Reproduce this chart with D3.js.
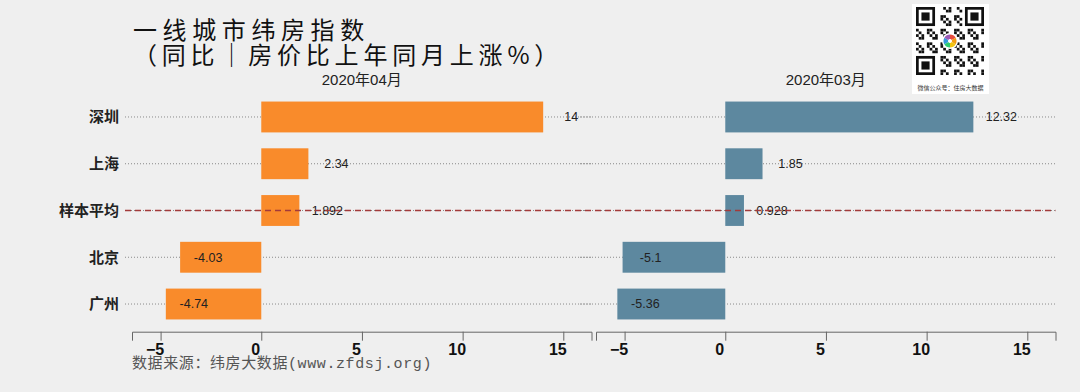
<!DOCTYPE html>
<html>
<head>
<meta charset="utf-8">
<script src="https://cdn.jsdelivr.net/npm/d3@7"></script>
<style>
  body { margin: 0; background: #efefef; }
  svg { display: block; }
</style>
</head>
<body>
<div id="chart"></div>
<script>
// data
var cities = ["深圳", "上海", "样本平均", "北京", "广州"];
var apr = [14, 2.34, 1.892, -4.03, -4.74];
var mar = [12.32, 1.85, 0.928, -5.1, -5.36];
var panelTitles = ["2020年04月", "2020年03月"];
var tickValues = [-5, 0, 5, 10, 15];
var avgName = "样本平均";

var width = 1080, height = 392;
var cjk = "'Noto Sans CJK SC', sans-serif";

var svg = d3.select("#chart")
    .append("svg")
    .attr("width", width)
    .attr("height", height);

svg.append("rect")
    .attr("width", width)
    .attr("height", height)
    .attr("fill", "#efefef");

// title
svg.append("text")
    .attr("x", 133).attr("y", 39)
    .attr("font-family", cjk)
    .attr("font-size", 24)
    .attr("letter-spacing", 5.6)
    .attr("fill", "#111")
    .text("一线城市纬房指数");
svg.append("text")
    .attr("x", 133).attr("y", 64)
    .attr("font-family", cjk)
    .attr("font-size", 24)
    .attr("letter-spacing", 4.8)
    .attr("fill", "#111")
    .text("（同比｜房价比上年同月上涨%）");

var y = d3.scaleBand()
    .domain(cities)
    .range([93.6, 327.4])
    .paddingInner(0.34)
    .paddingOuter(0.17);

// row labels
svg.selectAll(".rowlabel")
    .data(cities)
    .enter().append("text")
    .attr("class", "rowlabel")
    .attr("x", 119)
    .attr("y", function(d) { return y(d) + y.bandwidth() / 2; })
    .attr("dy", "0.35em")
    .attr("text-anchor", "end")
    .attr("font-family", cjk)
    .attr("font-weight", "bold")
    .attr("font-size", 15)
    .attr("fill", "#222")
    .text(function(d) { return d; });

var panels = [
    { title: panelTitles[0], values: apr, color: "#f98b2b", range: [132, 591.5], gridStart: 125 },
    { title: panelTitles[1], values: mar, color: "#5d889f", range: [596, 1055.5], gridStart: 580 }
];

var ay = y(avgName) + y.bandwidth() / 2;

panels.forEach(function(p) {
    var x = d3.scaleLinear()
        .domain([-6.42, 16.4])
        .range(p.range);

    var rows = cities.map(function(c, i) { return { city: c, value: p.values[i] }; });

    var g = svg.append("g");

    g.append("text")
        .attr("x", (p.range[0] + p.range[1]) / 2)
        .attr("y", 85)
        .attr("text-anchor", "middle")
        .attr("font-family", "'Liberation Sans', " + cjk)
        .attr("font-size", 15)
        .attr("fill", "#222")
        .text(p.title);

    // dotted row lines
    g.selectAll(".grid")
        .data(cities)
        .enter().append("line")
        .attr("x1", p.gridStart)
        .attr("x2", p.range[1])
        .attr("y1", function(d) { return y(d) + y.bandwidth() / 2; })
        .attr("y2", function(d) { return y(d) + y.bandwidth() / 2; })
        .attr("stroke", "#8a8a8a")
        .attr("stroke-width", 1)
        .attr("stroke-dasharray", "1,2");

    g.selectAll(".bar")
        .data(rows)
        .enter().append("rect")
        .attr("class", "bar")
        .attr("x", function(d) { return x(Math.min(0, d.value)); })
        .attr("y", function(d) { return y(d.city); })
        .attr("width", function(d) { return Math.abs(x(d.value) - x(0)); })
        .attr("height", y.bandwidth())
        .attr("fill", p.color);

    g.selectAll(".barvalue")
        .data(rows)
        .enter().append("text")
        .attr("x", function(d) { return x(d.value) + 28; })
        .attr("y", function(d) { return y(d.city) + y.bandwidth() / 2; })
        .attr("dy", "0.35em")
        .attr("text-anchor", "middle")
        .attr("font-family", "'Liberation Sans', Arial, sans-serif")
        .attr("font-size", 12.5)
        .attr("fill", "#222")
        .text(function(d) { return d.value; });

    var axis = g.append("g")
        .attr("transform", "translate(0,331.7)")
        .call(d3.axisBottom(x).tickValues(tickValues).tickSize(9).tickPadding(3));
    axis.select(".domain").attr("stroke", "#666");
    axis.selectAll(".tick line").attr("stroke", "#666");
    axis.selectAll("text")
        .attr("dx", -6)
        .attr("font-family", "'Liberation Sans', Arial, sans-serif")
        .attr("font-weight", "bold")
        .attr("font-size", 16)
        .attr("fill", "#111");
});

// average line across both panels
svg.append("line")
    .attr("x1", 125).attr("x2", 1055.5)
    .attr("y1", ay).attr("y2", ay)
    .attr("stroke", "#a33a3a")
    .attr("stroke-width", 1.3)
    .attr("stroke-dasharray", "6,4");

// source note
svg.append("text")
    .attr("x", 132).attr("y", 368)
    .attr("font-family", "'Liberation Mono', " + cjk)
    .attr("font-size", 15)
    .attr("letter-spacing", 0.6)
    .attr("fill", "#555")
    .text("数据来源：纬房大数据(www.zfdsj.org)");

// QR badge
var qr = svg.append("g").attr("transform", "translate(912,4)");
qr.append("rect").attr("width", 77).attr("height", 90).attr("fill", "#fff");
var n = 25, m = 68 / n;
var cells = [];
for (var i = 0; i < n; i++) {
    for (var j = 0; j < n; j++) {
        var inFinder = (i < 8 && j < 8) || (i < 8 && j >= n - 8) || (i >= n - 8 && j < 8);
        if (inFinder) continue;
        if (((i * 7 + j * 13 + i * j) % 5) < 2) cells.push([i, j]);
    }
}
qr.selectAll(".mod").data(cells).enter().append("rect")
    .attr("x", function(d) { return 4 + d[1] * m; })
    .attr("y", function(d) { return 3 + d[0] * m; })
    .attr("width", m).attr("height", m)
    .attr("fill", "#111");
[[0, 0], [0, n - 7], [n - 7, 0]].forEach(function(f) {
    qr.append("rect").attr("x", 4 + f[1] * m + m / 2).attr("y", 3 + f[0] * m + m / 2)
        .attr("width", 6 * m).attr("height", 6 * m)
        .attr("fill", "none").attr("stroke", "#111").attr("stroke-width", m);
    qr.append("rect").attr("x", 4 + (f[1] + 2) * m).attr("y", 3 + (f[0] + 2) * m)
        .attr("width", 3 * m).attr("height", 3 * m).attr("fill", "#111");
});
qr.append("circle").attr("cx", 38).attr("cy", 37).attr("r", 8).attr("fill", "#fff");
var logoColors = ["#e84c3d", "#f39c12", "#f1c40f", "#2ecc71", "#3498db", "#9b59b6"];
var arc = d3.arc().innerRadius(2).outerRadius(6.5);
var pie = d3.pie().value(1)(logoColors);
qr.append("g").attr("transform", "translate(38,37)")
    .selectAll("path").data(pie).enter().append("path")
    .attr("d", arc)
    .attr("fill", function(d) { return d.data; });
qr.append("text")
    .attr("x", 38.5).attr("y", 86)
    .attr("text-anchor", "middle")
    .attr("font-family", cjk)
    .attr("font-size", 6)
    .attr("fill", "#333")
    .text("微信公众号：住房大数据");
</script>
</body>
</html>
